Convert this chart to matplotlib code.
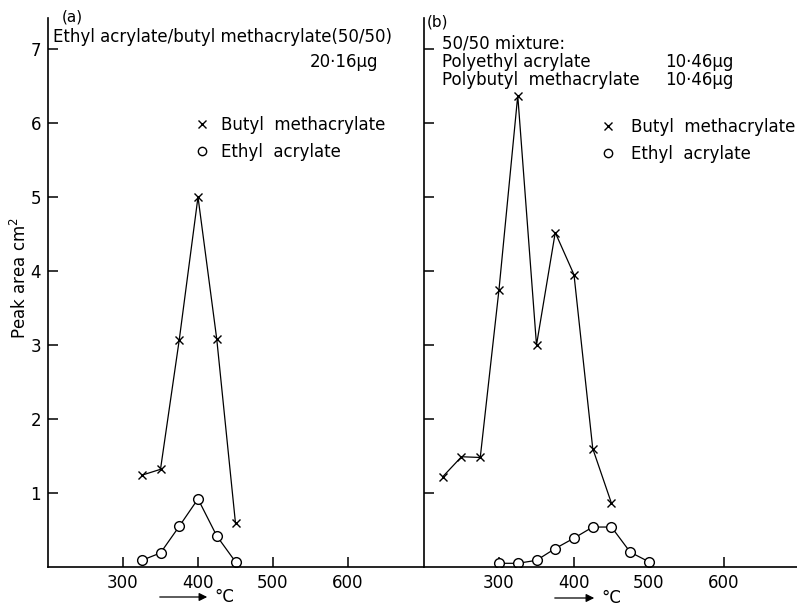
import matplotlib
matplotlib.use("Agg")
import matplotlib.pyplot as plt
from matplotlib.lines import Line2D
from matplotlib.patches import FancyArrowPatch

# panel (a): ethyl acrylate / butyl methacrylate copolymer 50/50
temp_a = [325, 350, 375, 400, 425, 450]
butyl_a = [1.24, 1.32, 3.07, 5.0, 3.08, 0.59]
ethyl_a = [0.09, 0.19, 0.55, 0.92, 0.42, 0.07]

# panel (b): 50/50 mixture of the homopolymers
temp_b_butyl = [225, 250, 275, 300, 325, 350, 375, 400, 425, 450]
butyl_b = [1.22, 1.49, 1.48, 3.75, 6.37, 3.0, 4.52, 3.95, 1.6, 0.86]
temp_b_ethyl = [300, 325, 350, 375, 400, 425, 450, 475, 500]
ethyl_b = [0.05, 0.05, 0.09, 0.25, 0.39, 0.54, 0.54, 0.2, 0.07]

xticks = [300, 400, 500, 600]
yticks = [1, 2, 3, 4, 5, 6, 7]

W, H = 797, 607
fig = plt.figure(figsize=(W / 100, H / 100), dpi=100)


def fx(px):
    return px / W


def fy(py):
    return 1 - py / H


fs = 12
bottom = fy(567)
height = (567 - 18) / H
ax_a = fig.add_axes([fx(48), bottom, fx(375), height])
ax_b = fig.add_axes([fx(424), bottom, fx(373), height])

ymax = 549 / 74.0

for ax in (ax_a, ax_b):
    ax.spines['top'].set_visible(False)
    ax.spines['right'].set_visible(False)
    for s in ('left', 'bottom'):
        ax.spines[s].set_linewidth(1.2)
    ax.set_xlim(200, 200 + ax.get_position().width * W / 0.75)
    ax.set_ylim(0, ymax)
    ax.set_xticks(xticks)
    ax.set_yticks(yticks)
    ax.tick_params(direction='in', length=7, width=1.1, labelsize=fs, pad=5)

ax_b.set_yticklabels([])

mk_x = dict(marker='x', ms=6, mew=1.0, color='black', lw=0.9)
mk_o = dict(marker='o', ms=7, mew=1.0, color='black', mfc='white', lw=0.9)

ax_a.plot(temp_a, butyl_a, **mk_x)
ax_a.plot(temp_a, ethyl_a, **mk_o)
ax_b.plot(temp_b_butyl, butyl_b, **mk_x)
ax_b.plot(temp_b_ethyl, ethyl_b, **mk_o)

handles = [Line2D([], [], marker='x', ls='none', color='black', ms=6, mew=1.0),
           Line2D([], [], marker='o', ls='none', color='black', mfc='none', ms=6, mew=1.0)]
labels = ['Butyl  methacrylate', 'Ethyl  acrylate']

fig.legend(handles, labels, loc='upper left', bbox_to_anchor=(fx(194), fy(116)),
           frameon=False, fontsize=fs, handlelength=1, handletextpad=0.6,
           labelspacing=0.55, borderpad=0, borderaxespad=0)
fig.legend(handles, labels, loc='upper left', bbox_to_anchor=(fx(600), fy(118)),
           frameon=False, fontsize=fs, handlelength=1, handletextpad=0.85,
           labelspacing=0.55, borderpad=0, borderaxespad=0)

# panel labels and annotations
fig.text(fx(62), fy(17), '(a)', fontsize=11, va='center')
fig.text(fx(53), fy(37), 'Ethyl acrylate/butyl methacrylate(50/50)', fontsize=fs, va='center')
fig.text(fx(310), fy(62), '20·16μg', fontsize=fs, va='center')

fig.text(fx(427), fy(22), '(b)', fontsize=11, va='center')
fig.text(fx(442), fy(43), '50/50 mixture:', fontsize=fs, va='center')
fig.text(fx(442), fy(62), 'Polyethyl acrylate', fontsize=fs, va='center')
fig.text(fx(442), fy(80), 'Polybutyl  methacrylate', fontsize=fs, va='center')
fig.text(fx(665), fy(62), '10·46μg', fontsize=fs, va='center')
fig.text(fx(665), fy(80), '10·46μg', fontsize=fs, va='center')

fig.text(fx(20), fy(278), 'Peak area cm$^2$', fontsize=fs, rotation=90,
         ha='center', va='center')

# x-axis "-> °C" labels
for x0, x1, y in [(157, 210, 597), (552, 597, 598)]:
    fig.add_artist(FancyArrowPatch(
        (fx(x0), fy(y)), (fx(x1), fy(y)), transform=fig.transFigure,
        arrowstyle='-|>', mutation_scale=12, color='black', lw=0.9))
    fig.text(fx(x1 + 4), fy(y), '°C', fontsize=fs, va='center')

fig.savefig('out.png', dpi=100)
